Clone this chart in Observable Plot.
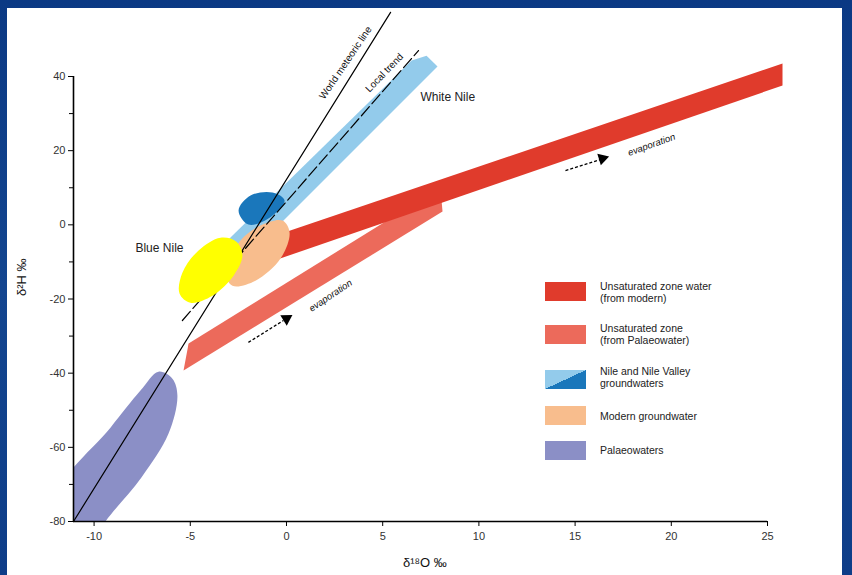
<!DOCTYPE html>
<html><head><meta charset="utf-8">
<script src="https://cdn.jsdelivr.net/npm/d3@7"></script>
<script src="https://cdn.jsdelivr.net/npm/@observablehq/plot@0.6"></script>
<style>
html,body{margin:0;padding:0;}
body{width:852px;height:575px;overflow:hidden;position:relative;
  background:linear-gradient(180deg,#0b3984 0%,#13458f 50%,#0e3d88 100%);
  font-family:"Liberation Sans",Arial,sans-serif;}
#paper{position:absolute;left:7px;top:8px;width:835px;height:567px;background:#fff;}
#chart{position:absolute;left:0;top:0;}
.axlab{position:absolute;color:#111;font-size:13px;white-space:nowrap;}
#legend .sw{position:absolute;left:545px;width:41px;height:19px;}
#legend .lt{position:absolute;left:600px;font-size:10.5px;line-height:12px;color:#222;white-space:nowrap;}
</style></head>
<body>
<div id="paper"></div>
<div id="chart"></div>
<div class="axlab" style="left:14px;top:266px;transform:rotate(-90deg);transform-origin:left top;top:296px;">δ²H ‰</div>
<div class="axlab" style="left:403px;top:555px;">δ¹⁸O ‰</div>
<div id="legend"></div>
<script>
// ---------- data (δ18O, δD) ----------
const xDomain = [-11.07, 25];
const yDomain = [-80, 40];
const xTicks = [-10, -5, 0, 5, 10, 15, 20, 25];
const yTicks = [40, 20, 0, -20, -40, -60, -80];
const yMinorTicks = [30, 10, -10, -30, -50, -70];

const palaeowater = [[-6.65,-39.6],[-5.93,-41.5],[-5.67,-46.05],[-6.13,-56.3],[-7.54,-68.15],[-9.41,-80.0],[-10.29,-87.3],[-11.75,-87.3],[-11.95,-72.7],[-9.15,-54.7],[-7.59,-44.7]];
const unsatPalaeo = [[-5.09,-32.0],[8.00,10.06],[8.11,3.59],[-5.35,-39.3]];
const unsatModern = [[-0.57,-2.89],[25.78,43.5],[25.78,37.57],[-0.94,-10.17]];
const nileBand = [[-3.07,-4.23],[6.50,44.3],[7.28,45.6],[7.85,42.7],[-1.72,-6.93]];
const nileBlob = [[-2.49,3.86],[-1.87,7.9],[-0.73,8.71],[-0.10,6.55],[-0.94,1.70],[-1.98,0.08]];
const modernGW = [[-2.39,-4.23],[-1.25,0.08],[-0.21,1.16],[0.16,-2.1],[-0.31,-9.1],[-1.61,-15.05],[-2.81,-16.4],[-3.17,-12.35]];
const highlight = [[-3.43,-3.45],[-2.60,-4.53],[-2.29,-8.3],[-2.75,-13.7],[-3.85,-19.1],[-4.99,-21.0],[-5.56,-18.5],[-5.41,-12.9],[-4.57,-6.9]];

const worldLine = [[-11.07,-80.0],[5.41,57.3]];
const localLine = [[-5.41,-25.8],[6.86,47.0]];

const lineLabels = [
  {x: 3.07, y: 43.7, text: "World meteoric line", angle: -56},
  {x: 5.09, y: 41.0, text: "Local trend", angle: -46}
];
const placeLabels = [
  {x: 6.96, y: 34.3, text: "White Nile"},
  {x: -7.85, y: -6.3, text: "Blue Nile"}
];
const evapArrows = [
  {x1: 14.50, y1: 14.64, x2: 16.32, y2: 17.61, hx: 16.42, hy: 17.88, rot: 73},
  {x1: -1.98, y1: -31.7, x2: -0.16, y2: -25.8, hx: 0.0, hy: -25.3, rot: 58}
];
const evapLabels = [
  {x: 18.97, y: 21.6, text: "evaporation", angle: -20},
  {x: 2.29, y: -19.1, text: "evaporation", angle: -34}
];

const legendLabels = [
  "Unsaturated zone water\n(from modern)",
  "Unsaturated zone\n(from Palaeowater)",
  "Nile and Nile Valley\ngroundwaters",
  "Modern groundwater",
  "Palaeowaters"
];
const colors = {
  unsatModern: "#e03b2c",
  unsatPalaeo: "#ec6a5b",
  nileLight: "#93cbeb",
  nileDark: "#1a77bb",
  modern: "#f8bd8d",
  palaeo: "#8b8fc6",
  highlight: "#ffff00"
};

// ---------- chart ----------
const P = (arr) => arr.map(([x, y]) => ({x, y}));
const shape = (arr, fill, curve, extra = {}) =>
  Plot.line(P(arr), {x: "x", y: "y", fill, stroke: "none", curve, ...extra});

const chart = Plot.plot({
  width: 852,
  height: 575,
  marginLeft: 73,
  marginRight: 85,
  marginTop: 76,
  marginBottom: 54,
  style: {background: "transparent", fontFamily: "Liberation Sans, Arial, sans-serif", color: "#111"},
  x: {domain: xDomain, axis: null},
  y: {domain: yDomain, axis: null},
  marks: [
    shape(palaeowater, colors.palaeo, "catmull-rom-closed", {clip: true}),
    shape(unsatPalaeo, colors.unsatPalaeo, "linear-closed"),
    shape(unsatModern, colors.unsatModern, "linear-closed"),
    shape(nileBand, colors.nileLight, "linear-closed"),
    shape(nileBlob, colors.nileDark, "catmull-rom-closed"),
    shape(modernGW, colors.modern, "catmull-rom-closed"),
    Plot.line(P(worldLine), {x: "x", y: "y", stroke: "#000", strokeWidth: 1.2}),
    Plot.line(P(localLine), {x: "x", y: "y", stroke: "#000", strokeWidth: 1.2, strokeDasharray: "12,4"}),
    shape(highlight, colors.highlight, "catmull-rom-closed"),
    Plot.text(lineLabels, {x: "x", y: "y", text: "text", rotate: "angle", fontSize: 10, fill: "#111"}),
    Plot.text(placeLabels, {x: "x", y: "y", text: "text", textAnchor: "start", fontSize: 12, fill: "#222"}),
    Plot.link(evapArrows, {x1: "x1", y1: "y1", x2: "x2", y2: "y2", stroke: "#000", strokeWidth: 1.3, strokeDasharray: "3,2"}),
    Plot.dot(evapArrows, {x: "hx", y: "hy", symbol: "triangle", r: 4.5, fill: "#000", stroke: "none", rotate: "rot"}),
    Plot.text(evapLabels, {x: "x", y: "y", text: "text", rotate: "angle", fontSize: 9.5, fontStyle: "italic", fill: "#111"}),
    Plot.ruleX([xDomain[0]], {y1: yDomain[0], y2: yDomain[1], stroke: "#000", strokeWidth: 1.6}),
    Plot.ruleY([yDomain[0]], {x1: xDomain[0], x2: xDomain[1], stroke: "#000", strokeWidth: 1.6}),
    Plot.axisX(xTicks, {tickSize: 5, tickPadding: 6, fontSize: 11, label: null, tickFormat: d => String(d), stroke: "#000", color: "#333"}),
    Plot.axisY(yTicks, {tickSize: 5, tickPadding: 3, fontSize: 11, label: null, tickFormat: d => String(d), stroke: "#000", color: "#333"}),
    Plot.axisY(yMinorTicks, {tickSize: 4, label: null, tickFormat: () => "", stroke: "#000"})
  ]
});
document.getElementById("chart").appendChild(chart);

// ---------- legend ----------
const legendFills = [
  colors.unsatModern,
  colors.unsatPalaeo,
  `linear-gradient(to bottom right, ${colors.nileLight} 50%, ${colors.nileDark} 50%)`,
  colors.modern,
  colors.palaeo
];
const swatchTops = [282, 325, 370, 406, 441];
const textTops = [280, 322, 365, 410, 444];
const lg = document.getElementById("legend");
legendLabels.forEach((lab, i) => {
  const sw = document.createElement("div");
  sw.className = "sw";
  sw.style.top = swatchTops[i] + "px";
  sw.style.background = legendFills[i];
  lg.appendChild(sw);
  const t = document.createElement("div");
  t.className = "lt";
  t.style.top = textTops[i] + "px";
  t.innerHTML = lab.split("\n").join("<br>");
  lg.appendChild(t);
});
</script>
</body></html>
